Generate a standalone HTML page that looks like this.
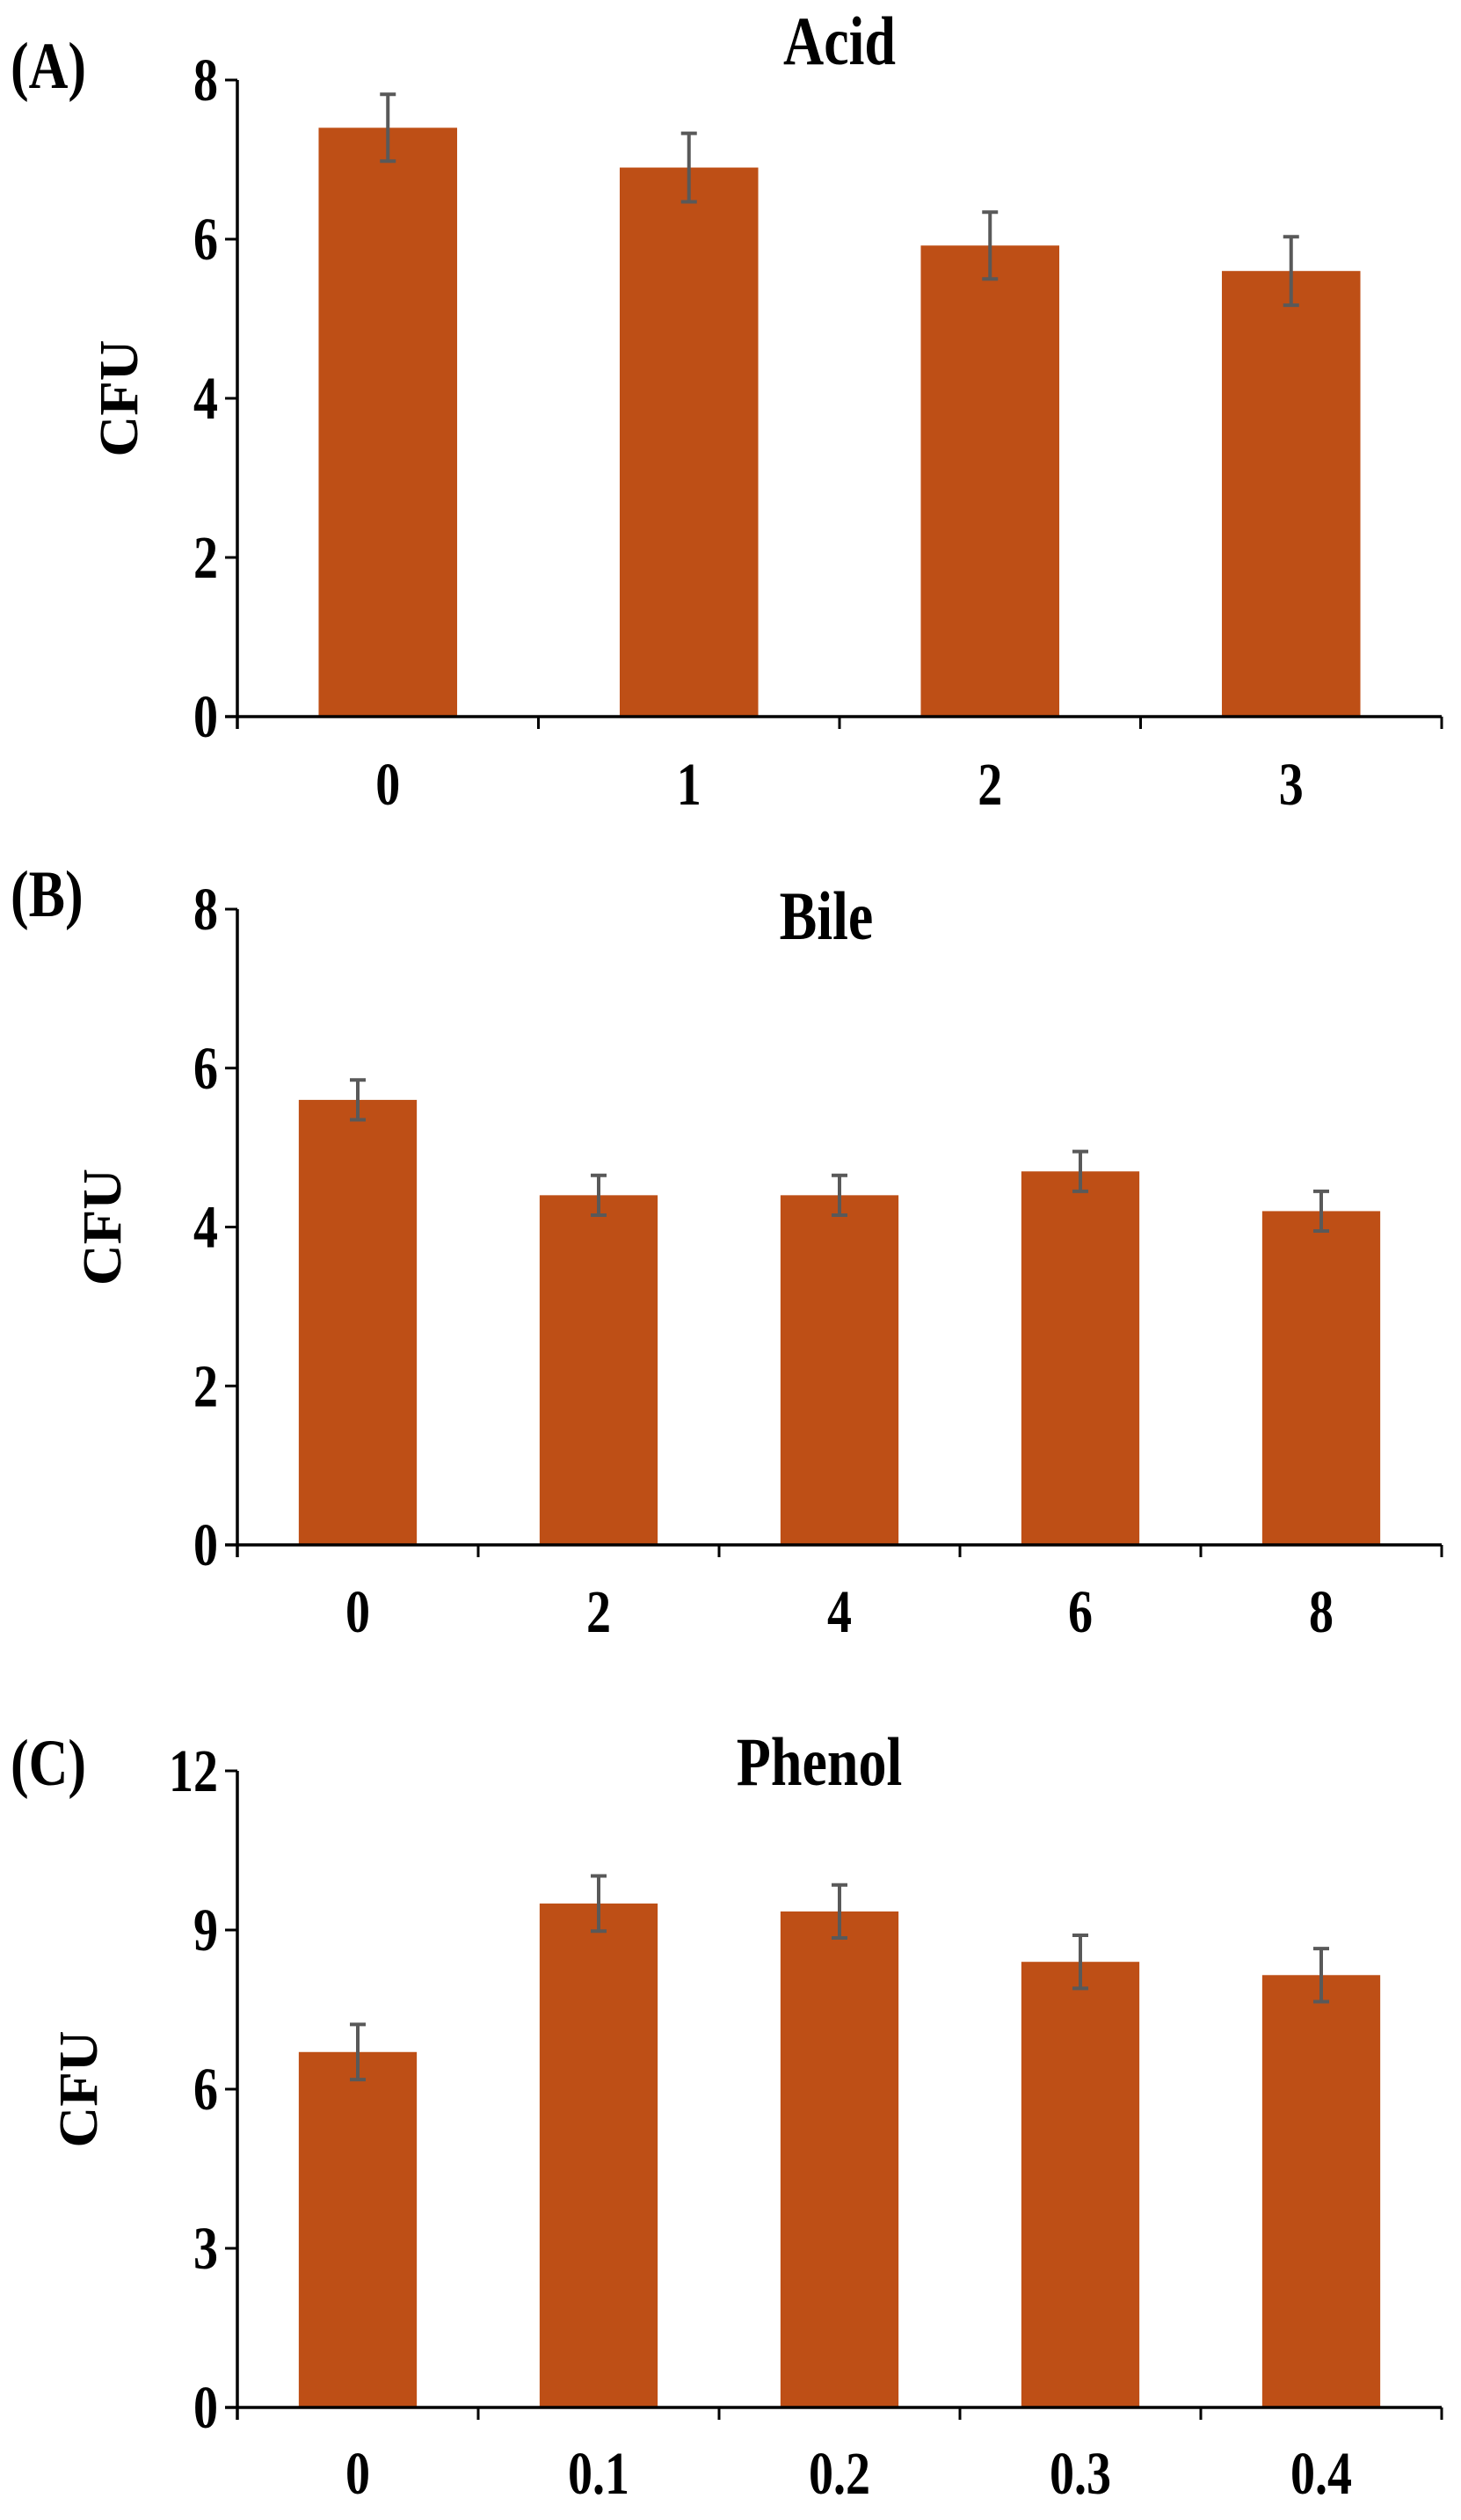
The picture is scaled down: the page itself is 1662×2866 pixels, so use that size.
<!DOCTYPE html>
<html><head><meta charset="utf-8"><style>
html,body{margin:0;padding:0;background:#fff}
svg{display:block}
text{font-family:"Liberation Serif",serif;font-weight:bold;fill:#000}
</style></head><body>
<svg id="chart" width="1662" height="2866" viewBox="0 0 1662 2866" xmlns="http://www.w3.org/2000/svg"></svg>
<script>
const acidCats=["0","1","2","3"];
const acidVals=[7.4,6.9,5.92,5.6];
const acidErr=[0.42,0.43,0.42,0.43];
const acidTicks=[0,2,4,6,8];
const bileCats=["0","2","4","6","8"];
const bileVals=[5.6,4.4,4.4,4.7,4.2];
const bileErr=[0.25,0.25,0.25,0.25,0.25];
const bileTicks=[0,2,4,6,8];
const phenolCats=["0","0.1","0.2","0.3","0.4"];
const phenolVals=[6.7,9.5,9.35,8.4,8.15];
const phenolErr=[0.52,0.52,0.5,0.5,0.5];
const phenolTicks=[0,3,6,9,12];

const NS="http://www.w3.org/2000/svg";
const svg=document.getElementById('chart');
function mk(tag,attrs,parent){const e=document.createElementNS(NS,tag);for(const k in attrs)e.setAttribute(k,attrs[k]);(parent||svg).appendChild(e);return e;}
function stext(x,y,anchor,size,parent){return mk('text',{x:0,y:0,'text-anchor':anchor,'font-size':size,transform:`translate(${x},${y}) scale(1,1.22)`},parent);}

function panel(p){
  const g=mk('g',{});
  
  
  const x0=270,x1=1640,top=p.top,zero=p.zero;
  const ymax=p.ticks[p.ticks.length-1];
  const y=v=>zero-(v/ymax)*(zero-top);
  const n=p.cats.length,cw=(x1-x0)/n;
  const bw=cw*p.bwf;
  p.vals.forEach((v,i)=>{
    const cx=x0+cw*(i+0.5);
    const r=mk('rect',{x:cx-bw/2,y:y(v),width:bw,height:zero-y(v),fill:'#BE4F16'},g);
    
    
    const e=p.err[i];
    const eb=mk('path',{d:`M${cx} ${y(v+e)}V${y(v-e)}M${cx-9} ${y(v+e)}H${cx+9}M${cx-9} ${y(v-e)}H${cx+9}`,stroke:'#595959','stroke-width':4,fill:'none'},g);
    
    
    const t=stext(cx,p.xlab,'middle',56,g);
    t.textContent=p.cats[i];
    
    
  });
  const ax=mk('path',{d:`M${x0} ${top}V${zero+14}M${x0-14} ${zero}H${x1}`,stroke:'#000','stroke-width':3.5,fill:'none'},g);
  
  
  for(let i=1;i<=n;i++){
    const xt=x0+cw*i;
    mk('line',{x1:xt,x2:xt,y1:zero,y2:zero+14,stroke:'#000','stroke-width':3},g);
  }
  p.ticks.forEach(tv=>{
    mk('line',{x1:x0-14,x2:x0,y1:y(tv),y2:y(tv),stroke:'#000','stroke-width':3},g);
    const t=stext(248,y(tv)+23,'end',56,g);
    t.textContent=tv;
    
    
  });
  const yt=mk('text',{x:0,y:0,'text-anchor':'middle','font-size':54,transform:`translate(${p.cfuX},${(top+zero)/2}) rotate(-90) scale(1.2,1.15)`},g);
  yt.textContent='CFU';
  
  
  const ti=stext(p.titleX,p.titleY,'middle',64,g);
  ti.textContent=p.title;
  
  
  const pl=stext(12,p.labY,'start',62,g);
  pl.textContent=p.label;
  
  
}
panel({name:'acid',cats:acidCats,vals:acidVals,err:acidErr,ticks:acidTicks,top:91,zero:815,bwf:0.46,xlab:915,cfuX:156,title:'Acid',titleX:955,titleY:73,label:'(A)',labY:100});
panel({name:'bile',cats:bileCats,vals:bileVals,err:bileErr,ticks:bileTicks,top:1034,zero:1757,bwf:0.49,xlab:1856,cfuX:137,title:'Bile',titleX:940,titleY:1068,label:'(B)',labY:1042});
panel({name:'phenol',cats:phenolCats,vals:phenolVals,err:phenolErr,ticks:phenolTicks,top:2014,zero:2738,bwf:0.49,xlab:2836,cfuX:110,title:'Phenol',titleX:932,titleY:2030,label:'(C)',labY:2030});
</script>
</body></html>
